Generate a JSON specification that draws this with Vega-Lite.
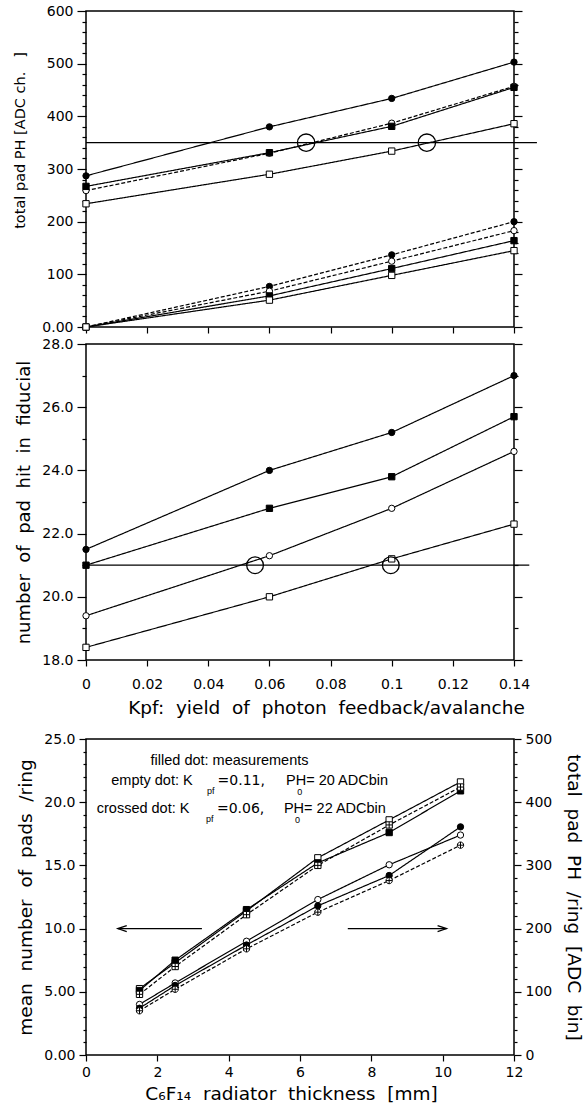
{
  "$schema": "https://vega.github.io/schema/vega-lite/v6.json",
  "background": "white",
  "padding": {"left": 12, "top": 3, "right": 2, "bottom": 2},
  "spacing": 1,
  "config": {
    "font": "DejaVu Sans",
    "view": {"stroke": "black", "strokeWidth": 1.5},
    "axis": {
      "domain": false, "grid": false, "tickColor": "black", "tickWidth": 1.2,
      "labelColor": "black", "titleColor": "black", "labelFont": "DejaVu Sans", "titleFont": "DejaVu Sans",
      "labelFontSize": 14, "titleFontSize": 16, "titleFontWeight": "normal",
      "labelOverlap": false, "labelFlush": false
    }
  },
  "datasets": {
    "top": [
      {"series": "U1", "marker": "filled circle", "kpf": 0, "v": 287},
      {"series": "U1", "marker": "filled circle", "kpf": 0.06, "v": 380},
      {"series": "U1", "marker": "filled circle", "kpf": 0.1, "v": 434},
      {"series": "U1", "marker": "filled circle", "kpf": 0.14, "v": 503},
      {"series": "U2", "marker": "open circle", "kpf": 0, "v": 259},
      {"series": "U2", "marker": "open circle", "kpf": 0.06, "v": 330},
      {"series": "U2", "marker": "open circle", "kpf": 0.1, "v": 387},
      {"series": "U2", "marker": "open circle", "kpf": 0.14, "v": 457},
      {"series": "U3", "marker": "filled square", "kpf": 0, "v": 267},
      {"series": "U3", "marker": "filled square", "kpf": 0.06, "v": 331},
      {"series": "U3", "marker": "filled square", "kpf": 0.1, "v": 381},
      {"series": "U3", "marker": "filled square", "kpf": 0.14, "v": 455},
      {"series": "U4", "marker": "open square", "kpf": 0, "v": 234},
      {"series": "U4", "marker": "open square", "kpf": 0.06, "v": 290},
      {"series": "U4", "marker": "open square", "kpf": 0.1, "v": 334},
      {"series": "U4", "marker": "open square", "kpf": 0.14, "v": 386},
      {"series": "L1", "marker": "filled circle", "kpf": 0, "v": 0},
      {"series": "L1", "marker": "filled circle", "kpf": 0.06, "v": 77},
      {"series": "L1", "marker": "filled circle", "kpf": 0.1, "v": 137},
      {"series": "L1", "marker": "filled circle", "kpf": 0.14, "v": 200},
      {"series": "L2", "marker": "open circle", "kpf": 0, "v": 0},
      {"series": "L2", "marker": "open circle", "kpf": 0.06, "v": 68},
      {"series": "L2", "marker": "open circle", "kpf": 0.1, "v": 125},
      {"series": "L2", "marker": "open circle", "kpf": 0.14, "v": 183},
      {"series": "L3", "marker": "filled square", "kpf": 0, "v": 0},
      {"series": "L3", "marker": "filled square", "kpf": 0.06, "v": 59},
      {"series": "L3", "marker": "filled square", "kpf": 0.1, "v": 111},
      {"series": "L3", "marker": "filled square", "kpf": 0.14, "v": 164},
      {"series": "L4", "marker": "open square", "kpf": 0, "v": 0},
      {"series": "L4", "marker": "open square", "kpf": 0.06, "v": 51},
      {"series": "L4", "marker": "open square", "kpf": 0.1, "v": 98},
      {"series": "L4", "marker": "open square", "kpf": 0.14, "v": 145}
    ],
    "topref": [{"x0": 0, "x1": 0.1475, "v": 350}],
    "topcross": [{"kpf": 0.072, "v": 350}, {"kpf": 0.1115, "v": 350}],
    "mid": [
      {"series": "M1", "marker": "filled circle", "kpf": 0, "v": 21.5},
      {"series": "M1", "marker": "filled circle", "kpf": 0.06, "v": 24.0},
      {"series": "M1", "marker": "filled circle", "kpf": 0.1, "v": 25.2},
      {"series": "M1", "marker": "filled circle", "kpf": 0.14, "v": 27.0},
      {"series": "M2", "marker": "filled square", "kpf": 0, "v": 21.0},
      {"series": "M2", "marker": "filled square", "kpf": 0.06, "v": 22.8},
      {"series": "M2", "marker": "filled square", "kpf": 0.1, "v": 23.8},
      {"series": "M2", "marker": "filled square", "kpf": 0.14, "v": 25.7},
      {"series": "M3", "marker": "open circle", "kpf": 0, "v": 19.4},
      {"series": "M3", "marker": "open circle", "kpf": 0.06, "v": 21.3},
      {"series": "M3", "marker": "open circle", "kpf": 0.1, "v": 22.8},
      {"series": "M3", "marker": "open circle", "kpf": 0.14, "v": 24.6},
      {"series": "M4", "marker": "open square", "kpf": 0, "v": 18.4},
      {"series": "M4", "marker": "open square", "kpf": 0.06, "v": 20.0},
      {"series": "M4", "marker": "open square", "kpf": 0.1, "v": 21.2},
      {"series": "M4", "marker": "open square", "kpf": 0.14, "v": 22.3}
    ],
    "midref": [{"x0": 0, "x1": 0.145, "v": 21}],
    "midcross": [{"kpf": 0.0553, "v": 21}, {"kpf": 0.0997, "v": 21}],
    "pads": [
      {"series": "SO", "marker": "open square", "t": 1.5, "v": 5.25},
      {"series": "SO", "marker": "open square", "t": 2.5, "v": 7.3},
      {"series": "SO", "marker": "open square", "t": 4.5, "v": 11.4},
      {"series": "SO", "marker": "open square", "t": 6.5, "v": 15.6},
      {"series": "SO", "marker": "open square", "t": 8.5, "v": 18.6},
      {"series": "SO", "marker": "open square", "t": 10.5, "v": 21.6},
      {"series": "SF", "marker": "filled square", "t": 1.5, "v": 5.1},
      {"series": "SF", "marker": "filled square", "t": 2.5, "v": 7.5},
      {"series": "SF", "marker": "filled square", "t": 4.5, "v": 11.5},
      {"series": "SF", "marker": "filled square", "t": 6.5, "v": 15.2},
      {"series": "SF", "marker": "filled square", "t": 8.5, "v": 17.6},
      {"series": "SF", "marker": "filled square", "t": 10.5, "v": 20.9},
      {"series": "SX", "marker": "crossed square", "t": 1.5, "v": 4.8},
      {"series": "SX", "marker": "crossed square", "t": 2.5, "v": 7.0},
      {"series": "SX", "marker": "crossed square", "t": 4.5, "v": 11.1},
      {"series": "SX", "marker": "crossed square", "t": 6.5, "v": 15.0},
      {"series": "SX", "marker": "crossed square", "t": 8.5, "v": 18.2},
      {"series": "SX", "marker": "crossed square", "t": 10.5, "v": 21.2}
    ],
    "ph": [
      {"series": "CO", "marker": "open circle", "t": 1.5, "v": 80},
      {"series": "CO", "marker": "open circle", "t": 2.5, "v": 114},
      {"series": "CO", "marker": "open circle", "t": 4.5, "v": 180},
      {"series": "CO", "marker": "open circle", "t": 6.5, "v": 246},
      {"series": "CO", "marker": "open circle", "t": 8.5, "v": 301},
      {"series": "CO", "marker": "open circle", "t": 10.5, "v": 348},
      {"series": "CF", "marker": "filled circle", "t": 1.5, "v": 74},
      {"series": "CF", "marker": "filled circle", "t": 2.5, "v": 110},
      {"series": "CF", "marker": "filled circle", "t": 4.5, "v": 174},
      {"series": "CF", "marker": "filled circle", "t": 6.5, "v": 236},
      {"series": "CF", "marker": "filled circle", "t": 8.5, "v": 284},
      {"series": "CF", "marker": "filled circle", "t": 10.5, "v": 361},
      {"series": "CX", "marker": "crossed circle", "t": 1.5, "v": 70},
      {"series": "CX", "marker": "crossed circle", "t": 2.5, "v": 104},
      {"series": "CX", "marker": "crossed circle", "t": 4.5, "v": 168},
      {"series": "CX", "marker": "crossed circle", "t": 6.5, "v": 226},
      {"series": "CX", "marker": "crossed circle", "t": 8.5, "v": 276},
      {"series": "CX", "marker": "crossed circle", "t": 10.5, "v": 332}
    ],
    "inset_left": [
      {"txt": "filled dot: measurements", "x": 1.81, "y": 23.25},
      {"txt": "PH= 20 ADCbin", "x": 5.61, "y": 21.65},
      {"txt": "PH= 22 ADCbin", "x": 5.55, "y": 19.45}
    ],
    "inset_num": [
      {"txt": "=0.11,", "x": 3.69, "y": 21.65},
      {"txt": "=0.06,", "x": 3.67, "y": 19.45}
    ],
    "inset_right": [
      {"txt": "empty dot: K", "x": 2.99, "y": 21.65},
      {"txt": "crossed dot: K", "x": 2.9, "y": 19.45}
    ],
    "inset_sub": [
      {"txt": "pf", "x": 3.5, "y": 20.9},
      {"txt": "0", "x": 5.99, "y": 20.8},
      {"txt": "pf", "x": 3.47, "y": 18.7},
      {"txt": "0", "x": 5.93, "y": 18.6}
    ],
    "arrows": [
      {"x": 0.89, "x2": 3.25, "y": 10, "dir": "left"},
      {"x": 10.11, "x2": 7.34, "y": 10, "dir": "right"}
    ]
  },
  "vconcat": [
    {
      "width": 428, "height": 316,
      "layer": [
        {
          "data": {"name": "top"},
          "mark": {"type": "line", "color": "black", "strokeWidth": 1.2},
          "encoding": {
            "x": {"field": "kpf", "type": "quantitative", "scale": {"domain": [0, 0.14], "nice": false},
              "axis": {"orient": "bottom", "values": [0, 0.02, 0.04, 0.06, 0.08, 0.1, 0.12, 0.14], "labels": false, "tickSize": 6, "title": null}},
            "y": {"field": "v", "type": "quantitative", "scale": {"domain": [0, 600], "nice": false},
              "axis": {"orient": "left", "values": [0,20,40,60,80,100,120,140,160,180,200,220,240,260,280,300,320,340,360,380,400,420,440,460,480,500,520,540,560,580,600],
                "labelExpr": "datum.value % 100 === 0 ? (datum.value === 0 ? '0.00' : datum.label) : ''",
                "labelOverlap": false,
                "tickSize": {"condition": {"test": "datum.value % 100 === 0", "value": 9}, "value": 4},
                "labelPadding": 4, "title": "total pad PH [ADC ch.\u00a0\u00a0\u00a0]", "titleFontSize": 14.5, "titlePadding": 14, "titleY": 129}},
            "strokeDash": {"field": "series", "type": "nominal", "legend": null,
              "scale": {"domain": ["U1","U2","U3","U4","L1","L2","L3","L4","M1","M2","M3","M4","SO","SF","SX","CO","CF","CX"],
                "range": [[1,0],[4,2],[1,0],[1,0],[4,2],[4,2],[1,0],[1,0],[1,0],[1,0],[1,0],[1,0],[1,0],[1,0],[4,2],[1,0],[1,0],[4,2]]}}
          }
        },
        {
          "data": {"name": "topref"},
          "mark": {"type": "rule", "color": "black", "strokeWidth": 1.2},
          "encoding": {
            "x": {"field": "x0", "type": "quantitative"},
            "x2": {"field": "x1"},
            "y": {"field": "v", "type": "quantitative",
              "axis": {"orient": "right", "values": [0,20,40,60,80,100,120,140,160,180,200,220,240,260,280,300,320,340,360,380,400,420,440,460,480,500,520,540,560,580,600],
                "labels": false, "title": null,
                "tickSize": {"condition": {"test": "datum.value % 100 === 0", "value": 8}, "value": 4}}}
          }
        },
        {
          "data": {"name": "top"},
          "mark": {"type": "point", "filled": true, "stroke": "black", "strokeWidth": 1, "size": 40, "opacity": 1},
          "encoding": {
            "x": {"field": "kpf", "type": "quantitative"},
            "y": {"field": "v", "type": "quantitative", "axis": null},
            "shape": {"field": "marker", "type": "nominal", "legend": null,
              "scale": {"domain": ["filled circle","open circle","filled square","open square","crossed circle","crossed square"],
                "range": ["circle","circle","square","square","M-1,0A1,1,0,1,1,1,0A1,1,0,1,1,-1,0ZM-1,0L1,0M0,-1L0,1","M-1,-1L1,-1L1,1L-1,1ZM-1,0L1,0M0,-1L0,1"]}},
            "fill": {"field": "marker", "type": "nominal", "legend": null,
              "scale": {"domain": ["filled circle","open circle","filled square","open square","crossed circle","crossed square"],
                "range": ["black","white","black","white","white","white"]}}
          }
        },
        {
          "data": {"name": "topcross"},
          "mark": {"type": "point", "filled": false, "shape": "circle", "stroke": "black", "strokeWidth": 1.3, "size": 300, "opacity": 1},
          "encoding": {
            "x": {"field": "kpf", "type": "quantitative"},
            "y": {"field": "v", "type": "quantitative", "axis": null}
          }
        }
      ],
      "resolve": {"axis": {"y": "independent"}}
    },
    {
      "width": 428, "height": 316,
      "layer": [
        {
          "data": {"name": "mid"},
          "mark": {"type": "line", "color": "black", "strokeWidth": 1.2},
          "encoding": {
            "x": {"field": "kpf", "type": "quantitative", "scale": {"domain": [0, 0.14], "nice": false},
              "axis": {"orient": "bottom", "values": [0, 0.02, 0.04, 0.06, 0.08, 0.1, 0.12, 0.14],
                "labelExpr": "format(datum.value, '.2~f')", "labelOverlap": false, "tickSize": 6, "labelPadding": 11,
                "title": "Kpf:\u00a0 yield\u00a0 of\u00a0 photon\u00a0 feedback/avalanche", "titleFontSize": 18.5, "titlePadding": 7, "titleX": 240}},
            "y": {"field": "v", "type": "quantitative", "scale": {"domain": [18, 28], "nice": false},
              "axis": {"orient": "left", "values": [18,19,20,21,22,23,24,25,26,27,28],
                "labelExpr": "datum.value % 2 === 0 ? format(datum.value, '.1f') : ''", "labelOverlap": false,
                "tickSize": {"condition": {"test": "datum.value % 2 === 0", "value": 9}, "value": 4},
                "labelPadding": 4, "title": "number\u00a0 of\u00a0 pad\u00a0 hit\u00a0 in\u00a0 fiducial", "titleFontSize": 18, "titlePadding": 8}},
            "strokeDash": {"field": "series", "type": "nominal", "legend": null,
              "scale": {"domain": ["U1","U2","U3","U4","L1","L2","L3","L4","M1","M2","M3","M4","SO","SF","SX","CO","CF","CX"],
                "range": [[1,0],[4,2],[1,0],[1,0],[4,2],[4,2],[1,0],[1,0],[1,0],[1,0],[1,0],[1,0],[1,0],[1,0],[4,2],[1,0],[1,0],[4,2]]}}
          }
        },
        {
          "data": {"name": "midref"},
          "mark": {"type": "rule", "color": "black", "strokeWidth": 1.2},
          "encoding": {
            "x": {"field": "x0", "type": "quantitative"},
            "x2": {"field": "x1"},
            "y": {"field": "v", "type": "quantitative",
              "axis": {"orient": "right", "values": [18,19,20,21,22,23,24,25,26,27,28], "labels": false, "title": null,
                "tickSize": {"condition": {"test": "datum.value % 2 === 0", "value": 8}, "value": 4}}}
          }
        },
        {
          "data": {"name": "mid"},
          "mark": {"type": "point", "filled": true, "stroke": "black", "strokeWidth": 1, "size": 40, "opacity": 1},
          "encoding": {
            "x": {"field": "kpf", "type": "quantitative"},
            "y": {"field": "v", "type": "quantitative", "axis": null},
            "shape": {"field": "marker", "type": "nominal", "legend": null,
              "scale": {"domain": ["filled circle","open circle","filled square","open square","crossed circle","crossed square"],
                "range": ["circle","circle","square","square","M-1,0A1,1,0,1,1,1,0A1,1,0,1,1,-1,0ZM-1,0L1,0M0,-1L0,1","M-1,-1L1,-1L1,1L-1,1ZM-1,0L1,0M0,-1L0,1"]}},
            "fill": {"field": "marker", "type": "nominal", "legend": null,
              "scale": {"domain": ["filled circle","open circle","filled square","open square","crossed circle","crossed square"],
                "range": ["black","white","black","white","white","white"]}}
          }
        },
        {
          "data": {"name": "midcross"},
          "mark": {"type": "point", "filled": false, "shape": "circle", "stroke": "black", "strokeWidth": 1.3, "size": 280, "opacity": 1},
          "encoding": {
            "x": {"field": "kpf", "type": "quantitative"},
            "y": {"field": "v", "type": "quantitative", "axis": null}
          }
        }
      ],
      "resolve": {"axis": {"y": "independent"}}
    },
    {
      "width": 428, "height": 316,
      "title": {"text": " ", "fontSize": 5, "offset": 7},
      "layer": [
        {
          "data": {"name": "pads"},
          "mark": {"type": "line", "color": "black", "strokeWidth": 1.2},
          "encoding": {
            "x": {"field": "t", "type": "quantitative", "scale": {"domain": [0, 12], "nice": false},
              "axis": {"orient": "bottom", "values": [0,1,2,3,4,5,6,7,8,9,10,11,12],
                "labelExpr": "datum.value % 2 === 0 ? datum.label : ''", "labelOverlap": false,
                "tickSize": {"condition": {"test": "datum.value % 2 === 0", "value": 6}, "value": 3},
                "labelPadding": 4, "title": "C\u2086F\u2081\u2084\u00a0 radiator\u00a0 thickness\u00a0 [mm]", "titleFontSize": 18.5, "titlePadding": 5, "titleX": 205}},
            "y": {"field": "v", "type": "quantitative", "scale": {"domain": [0, 25], "nice": false},
              "axis": {"orient": "left", "values": [0,1,2,3,4,5,6,7,8,9,10,11,12,13,14,15,16,17,18,19,20,21,22,23,24,25],
                "labelExpr": "datum.value % 5 === 0 ? format(datum.value, datum.value >= 10 ? '.1f' : '.2f') : ''", "labelOverlap": false,
                "tickSize": {"condition": {"test": "datum.value % 5 === 0", "value": 7}, "value": 3},
                "labelPadding": 4, "title": "mean\u00a0 number\u00a0 of\u00a0 pads\u00a0 /ring", "titleFontSize": 18.5, "titlePadding": 8}},
            "strokeDash": {"field": "series", "type": "nominal", "legend": null,
              "scale": {"domain": ["U1","U2","U3","U4","L1","L2","L3","L4","M1","M2","M3","M4","SO","SF","SX","CO","CF","CX"],
                "range": [[1,0],[4,2],[1,0],[1,0],[4,2],[4,2],[1,0],[1,0],[1,0],[1,0],[1,0],[1,0],[1,0],[1,0],[4,2],[1,0],[1,0],[4,2]]}}
          }
        },
        {
          "data": {"name": "ph"},
          "mark": {"type": "line", "color": "black", "strokeWidth": 1.2},
          "encoding": {
            "x": {"field": "t", "type": "quantitative"},
            "y": {"field": "v", "type": "quantitative", "scale": {"domain": [0, 500], "nice": false},
              "axis": {"orient": "right", "values": [0,20,40,60,80,100,120,140,160,180,200,220,240,260,280,300,320,340,360,380,400,420,440,460,480,500],
                "labelExpr": "datum.value % 100 === 0 ? datum.label : ''", "labelOverlap": false,
                "tickSize": {"condition": {"test": "datum.value % 100 === 0", "value": 7}, "value": 3},
                "labelPadding": 4, "title": "total\u00a0 pad\u00a0 PH\u00a0 /ring\u00a0 [ADC\u00a0 bin]", "titleFontSize": 18.5, "titlePadding": 12}},
            "strokeDash": {"field": "series", "type": "nominal", "legend": null,
              "scale": {"domain": ["U1","U2","U3","U4","L1","L2","L3","L4","M1","M2","M3","M4","SO","SF","SX","CO","CF","CX"],
                "range": [[1,0],[4,2],[1,0],[1,0],[4,2],[4,2],[1,0],[1,0],[1,0],[1,0],[1,0],[1,0],[1,0],[1,0],[4,2],[1,0],[1,0],[4,2]]}}
          }
        },
        {
          "data": {"name": "pads"},
          "mark": {"type": "point", "filled": true, "stroke": "black", "strokeWidth": 1, "size": 40, "opacity": 1},
          "encoding": {
            "x": {"field": "t", "type": "quantitative"},
            "y": {"field": "v", "type": "quantitative", "scale": {"domain": [0, 25], "nice": false}, "axis": null},
            "shape": {"field": "marker", "type": "nominal", "legend": null,
              "scale": {"domain": ["filled circle","open circle","filled square","open square","crossed circle","crossed square"],
                "range": ["circle","circle","square","square","M-1,0A1,1,0,1,1,1,0A1,1,0,1,1,-1,0ZM-1,0L1,0M0,-1L0,1","M-1,-1L1,-1L1,1L-1,1ZM-1,0L1,0M0,-1L0,1"]}},
            "fill": {"field": "marker", "type": "nominal", "legend": null,
              "scale": {"domain": ["filled circle","open circle","filled square","open square","crossed circle","crossed square"],
                "range": ["black","white","black","white","white","white"]}}
          }
        },
        {
          "data": {"name": "ph"},
          "mark": {"type": "point", "filled": true, "stroke": "black", "strokeWidth": 1, "size": 40, "opacity": 1},
          "encoding": {
            "x": {"field": "t", "type": "quantitative"},
            "y": {"field": "v", "type": "quantitative", "scale": {"domain": [0, 500], "nice": false}, "axis": null},
            "shape": {"field": "marker", "type": "nominal", "legend": null,
              "scale": {"domain": ["filled circle","open circle","filled square","open square","crossed circle","crossed square"],
                "range": ["circle","circle","square","square","M-1,0A1,1,0,1,1,1,0A1,1,0,1,1,-1,0ZM-1,0L1,0M0,-1L0,1","M-1,-1L1,-1L1,1L-1,1ZM-1,0L1,0M0,-1L0,1"]}},
            "fill": {"field": "marker", "type": "nominal", "legend": null,
              "scale": {"domain": ["filled circle","open circle","filled square","open square","crossed circle","crossed square"],
                "range": ["black","white","black","white","white","white"]}}
          }
        },
        {
          "data": {"name": "inset_left"},
          "mark": {"type": "text", "align": "left", "baseline": "middle", "font": "Liberation Sans", "fontSize": 14.5, "color": "black"},
          "encoding": {
            "x": {"field": "x", "type": "quantitative"},
            "y": {"field": "y", "type": "quantitative", "scale": {"domain": [0, 25], "nice": false}, "axis": null},
            "text": {"field": "txt"}
          }
        },
        {
          "data": {"name": "inset_num"},
          "mark": {"type": "text", "align": "left", "baseline": "middle", "font": "DejaVu Sans", "fontSize": 14, "color": "black"},
          "encoding": {
            "x": {"field": "x", "type": "quantitative"},
            "y": {"field": "y", "type": "quantitative", "scale": {"domain": [0, 25], "nice": false}, "axis": null},
            "text": {"field": "txt"}
          }
        },
        {
          "data": {"name": "inset_right"},
          "mark": {"type": "text", "align": "right", "baseline": "middle", "font": "Liberation Sans", "fontSize": 14.5, "color": "black"},
          "encoding": {
            "x": {"field": "x", "type": "quantitative"},
            "y": {"field": "y", "type": "quantitative", "scale": {"domain": [0, 25], "nice": false}, "axis": null},
            "text": {"field": "txt"}
          }
        },
        {
          "data": {"name": "inset_sub"},
          "mark": {"type": "text", "align": "center", "baseline": "middle", "font": "Liberation Sans", "fontSize": 9, "color": "black"},
          "encoding": {
            "x": {"field": "x", "type": "quantitative"},
            "y": {"field": "y", "type": "quantitative", "scale": {"domain": [0, 25], "nice": false}, "axis": null},
            "text": {"field": "txt"}
          }
        },
        {
          "data": {"name": "arrows"},
          "mark": {"type": "rule", "color": "black", "strokeWidth": 1.2},
          "encoding": {
            "x": {"field": "x", "type": "quantitative"},
            "x2": {"field": "x2"},
            "y": {"field": "y", "type": "quantitative", "scale": {"domain": [0, 25], "nice": false}, "axis": null}
          }
        },
        {
          "data": {"name": "arrows"},
          "transform": [{"filter": "datum.dir === 'left'"}],
          "mark": {"type": "point", "shape": "M3,-1L0,0L3,1", "filled": false, "stroke": "black", "strokeWidth": 1.2, "size": 36, "opacity": 1},
          "encoding": {
            "x": {"field": "x", "type": "quantitative"},
            "y": {"field": "y", "type": "quantitative", "scale": {"domain": [0, 25], "nice": false}, "axis": null}
          }
        },
        {
          "data": {"name": "arrows"},
          "transform": [{"filter": "datum.dir === 'right'"}],
          "mark": {"type": "point", "shape": "M-3,-1L0,0L-3,1", "filled": false, "stroke": "black", "strokeWidth": 1.2, "size": 36, "opacity": 1},
          "encoding": {
            "x": {"field": "x", "type": "quantitative"},
            "y": {"field": "y", "type": "quantitative", "scale": {"domain": [0, 25], "nice": false}, "axis": null}
          }
        }
      ],
      "resolve": {"scale": {"y": "independent"}}
    }
  ]
}
